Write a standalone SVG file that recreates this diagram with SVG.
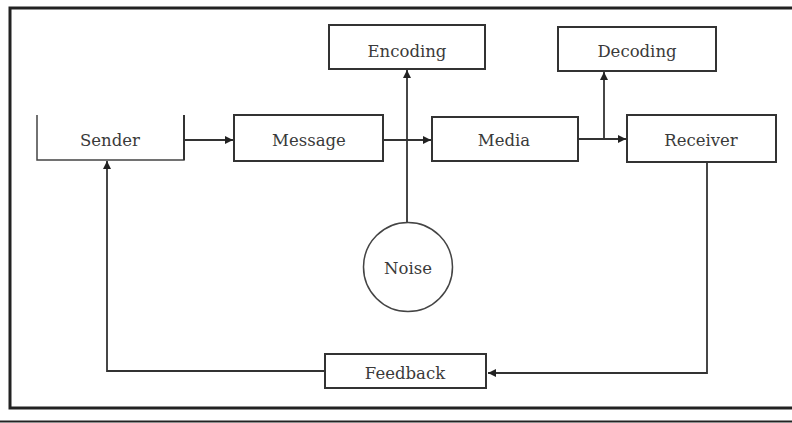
<svg xmlns="http://www.w3.org/2000/svg" width="792" height="423" viewBox="0 0 792 423">
<style>
.box{fill:#fff;stroke:#333;stroke-width:2}
.lbl{font-family:"DejaVu Serif","Liberation Serif",serif;font-size:16.5px;fill:#3a3a3a;text-anchor:middle;dominant-baseline:central}
.con{fill:none;stroke:#333;stroke-width:1.8}
.frame{fill:none;stroke:#222;stroke-width:3}
</style>
<defs>
<marker id="ah" viewBox="0 0 10 10" refX="10" refY="5" markerWidth="9" markerHeight="8" markerUnits="userSpaceOnUse" orient="auto">
<path d="M0,0 L10,5 L0,10 z" fill="#222"/>
</marker>
</defs>
<rect width="792" height="423" fill="#fff"/>
<path class="frame" d="M792,8 H10 V408 H792"/>
<line x1="0" y1="421.5" x2="792" y2="421.5" stroke="#222" stroke-width="2"/>
<g id="connectors">
<path class="con" d="M184,140 H233" marker-end="url(#ah)"/>
<path class="con" d="M383,140 H431" marker-end="url(#ah)"/>
<path class="con" d="M578,139 H626" marker-end="url(#ah)"/>
<path class="con" d="M604,139 V72" marker-end="url(#ah)"/>
<path class="con" d="M407,223 V70" marker-end="url(#ah)"/>
<path class="con" d="M707,162 V373 H488" marker-end="url(#ah)"/>
<path class="con" d="M325,371 H107 V161" marker-end="url(#ah)"/>
</g>
<g id="sender">
<path d="M37,115 V160 H184 V115" fill="none" stroke="#444" stroke-width="1.5"/>
<path d="M184,115 V160" stroke="#333" stroke-width="2"/>
<text class="lbl" x="110" y="140">Sender</text>
</g>
<g id="message">
<rect class="box" x="234" y="115" width="149" height="46"/>
<text class="lbl" x="309" y="140">Message</text>
</g>
<g id="media">
<rect class="box" x="432" y="117" width="146" height="44"/>
<text class="lbl" x="504" y="140">Media</text>
</g>
<g id="receiver">
<rect class="box" x="627" y="115" width="149" height="47"/>
<text class="lbl" x="701" y="140">Receiver</text>
</g>
<g id="encoding">
<rect class="box" x="329" y="25" width="156" height="44"/>
<text class="lbl" x="407" y="51">Encoding</text>
</g>
<g id="decoding">
<rect class="box" x="558" y="27" width="158" height="44"/>
<text class="lbl" x="637" y="51">Decoding</text>
</g>
<g id="noise">
<circle cx="408" cy="267" r="44.5" fill="#fff" stroke="#444" stroke-width="1.5"/>
<text class="lbl" x="408" y="268">Noise</text>
</g>
<g id="feedback">
<rect class="box" x="325" y="354" width="161" height="34"/>
<text class="lbl" x="405" y="373">Feedback</text>
</g>
</svg>
